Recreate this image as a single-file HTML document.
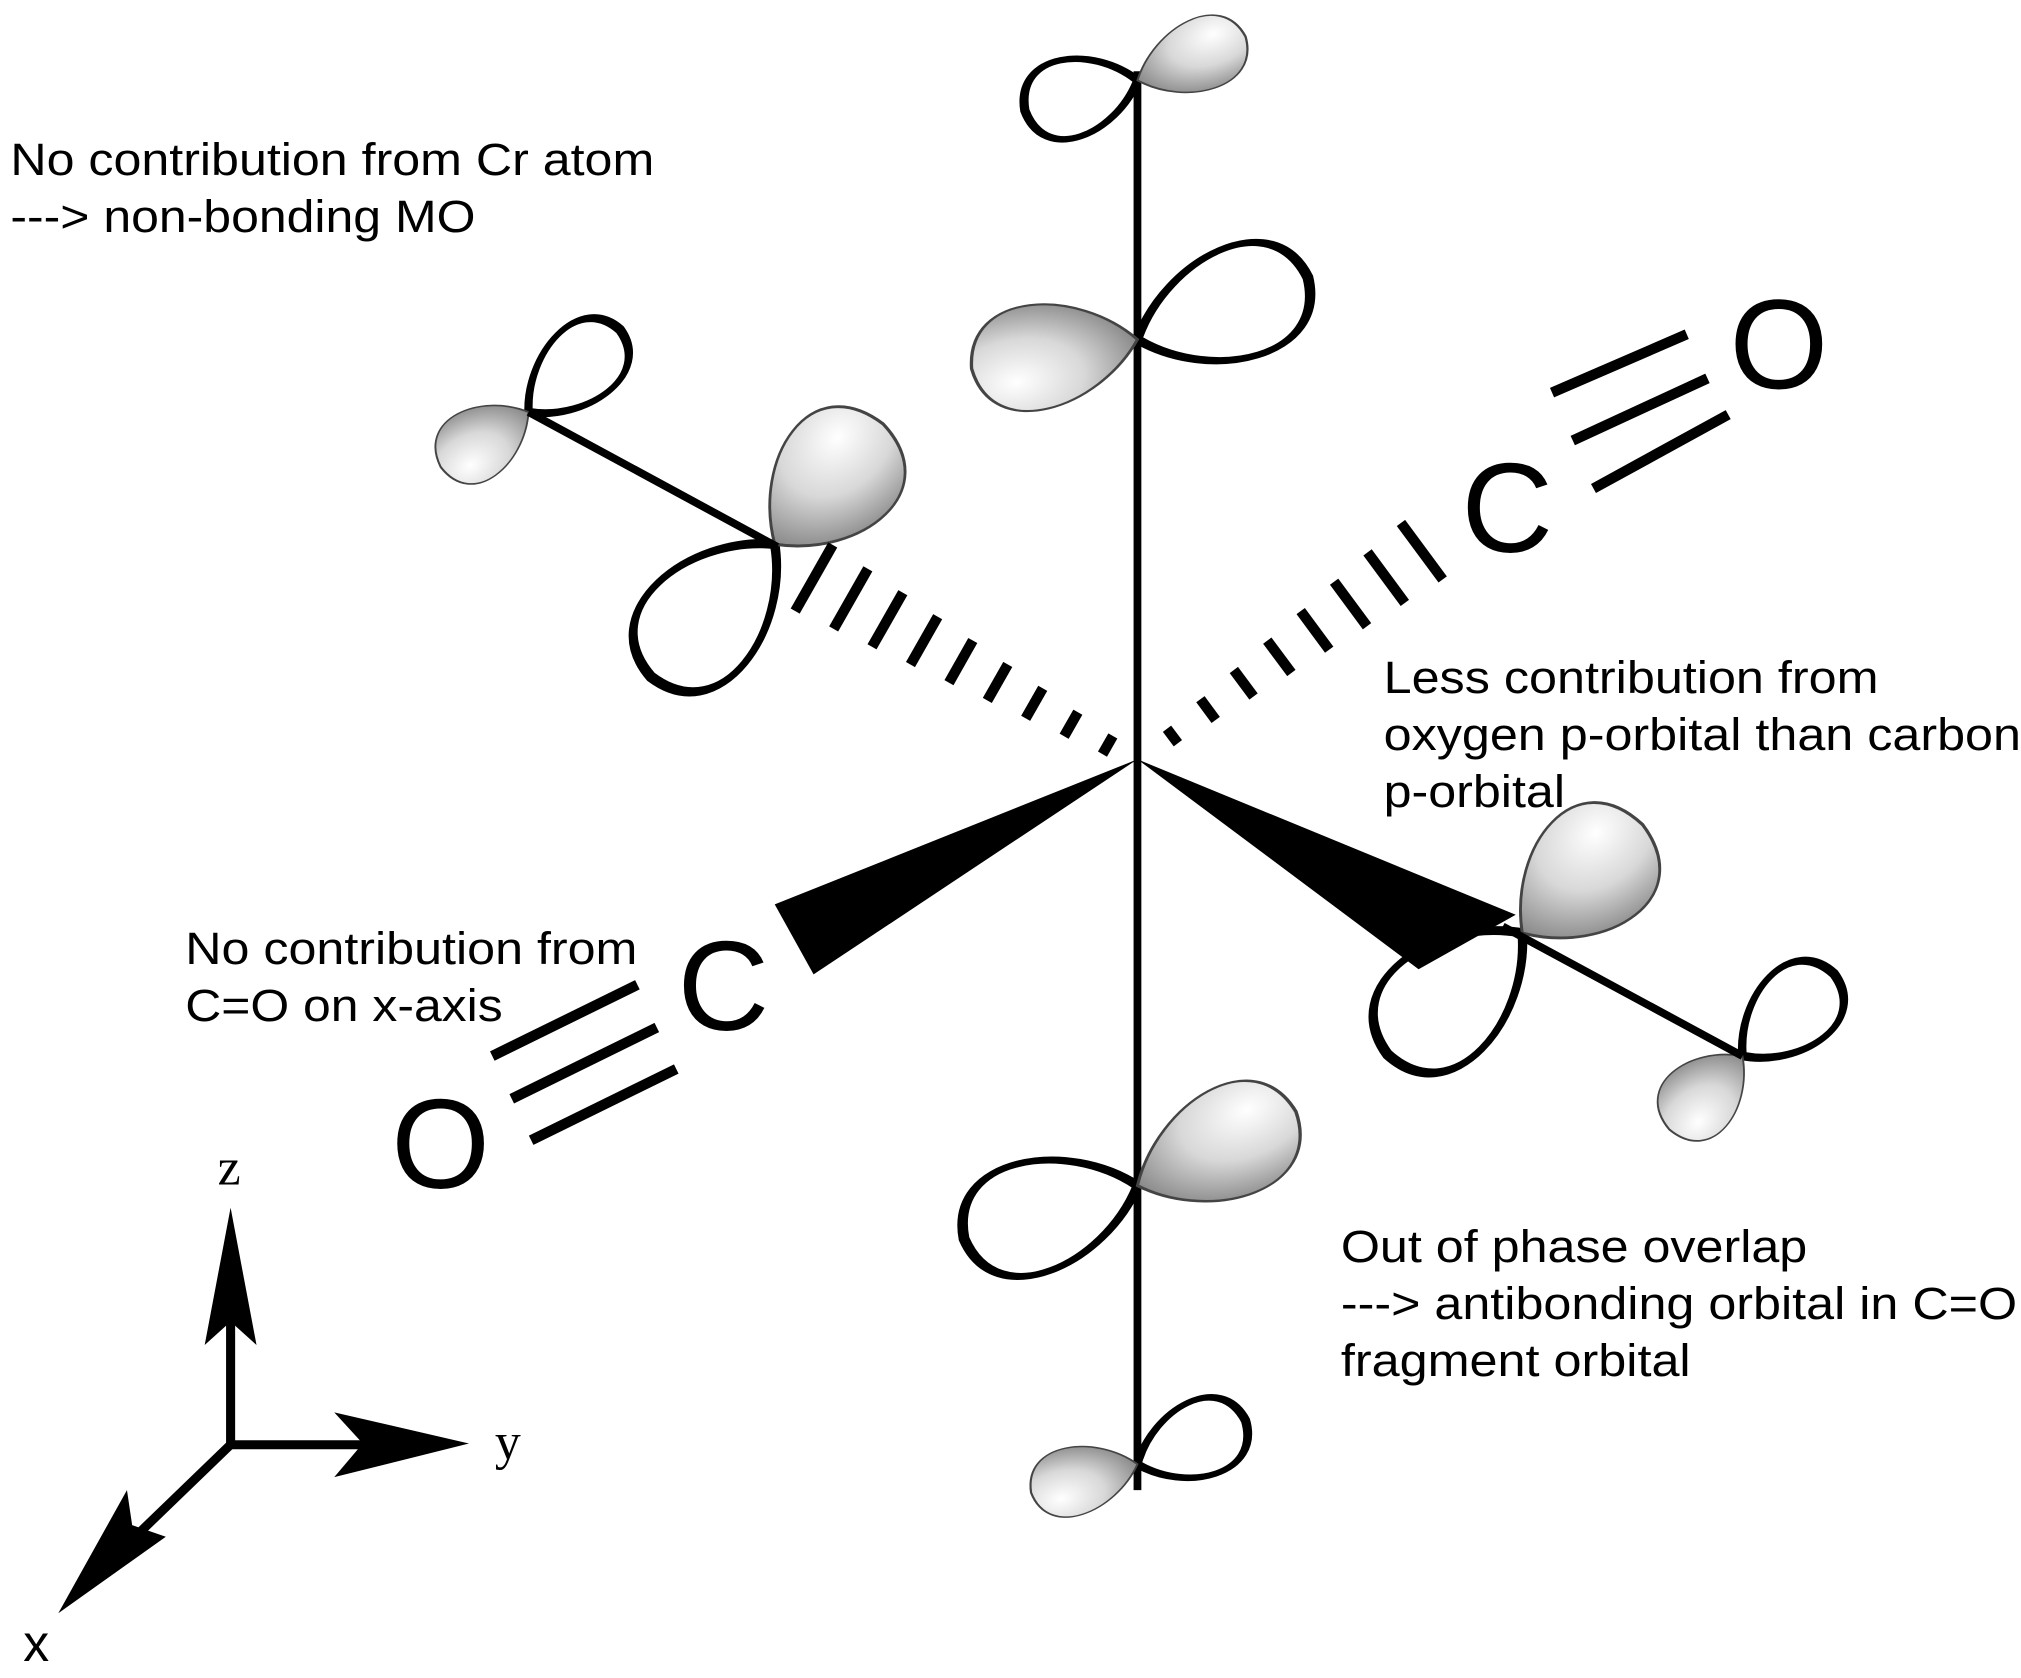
<!DOCTYPE html>
<html><head><meta charset="utf-8"><style>
html,body{margin:0;padding:0;background:#fff;}
svg{display:block}
text{font-family:"Liberation Sans",sans-serif;fill:#000}
</style></head><body>
<svg width="2021" height="1678" viewBox="0 0 1560 1295" preserveAspectRatio="none" xmlns="http://www.w3.org/2000/svg">
<defs>
<radialGradient id="g" cx="0.75" cy="0.3" r="0.9">
<stop offset="0" stop-color="#ffffff"/><stop offset="0.45" stop-color="#d8d8d8"/><stop offset="0.85" stop-color="#8a8a8a"/><stop offset="1" stop-color="#5a5a5a"/>
</radialGradient>
<path id="lobe" d="M0 0 C0.3 -0.6 0.95 -0.75 1 0 C0.95 0.75 0.3 0.6 0 0 Z"/>
</defs>
<rect width="1560" height="1295" fill="#fff"/>
<line x1="878" y1="55" x2="878" y2="1150" stroke="#000" stroke-width="6"/>
<g fill="#fff" stroke="#000">
<use href="#lobe" transform="translate(878,62) rotate(165) scale(90,60)" stroke-width="0.08"/>
<use href="#lobe" transform="translate(878,262) rotate(-20) scale(140,85)" stroke-width="0.06"/>
<use href="#lobe" transform="translate(878,915) rotate(163) scale(140,85)" stroke-width="0.06"/>
<use href="#lobe" transform="translate(878,1130) rotate(-22) scale(90,58)" stroke-width="0.08"/>
<use href="#lobe" transform="translate(408,318) rotate(-42) scale(95,58)" stroke-width="0.08"/>
<use href="#lobe" transform="translate(598,420) rotate(133) scale(140,90)" stroke-width="0.06"/>
<use href="#lobe" transform="translate(1175,720) rotate(138) scale(140,90)" stroke-width="0.06"/>
<use href="#lobe" transform="translate(1345,815) rotate(-42) scale(95,62)" stroke-width="0.08"/>
</g>
<g fill="url(#g)" stroke="#444" stroke-width="0.02">
<use href="#lobe" transform="translate(878,62) rotate(-22) scale(90,55)"/>
<use href="#lobe" transform="translate(878,262) rotate(170) scale(130,80)"/>
<use href="#lobe" transform="translate(878,915) rotate(-25) scale(135,85)"/>
<use href="#lobe" transform="translate(878,1130) rotate(165) scale(85,52)"/>
<use href="#lobe" transform="translate(408,318) rotate(148) scale(80,55)"/>
<use href="#lobe" transform="translate(598,420) rotate(-48) scale(125,95)"/>
<use href="#lobe" transform="translate(1175,720) rotate(-42) scale(125,95)"/>
<use href="#lobe" transform="translate(1345,815) rotate(135) scale(80,58)"/>
</g>
<g stroke="#000" stroke-width="6" fill="none">
<line x1="408" y1="318" x2="600" y2="422"/>
<line x1="1160" y1="715" x2="1345" y2="815"/>
</g>
<g stroke="#000" stroke-width="8">
<line x1="859" y1="568" x2="851" y2="582"/>
<line x1="832" y1="549.6" x2="821.4" y2="568.2"/>
<line x1="804.9" y1="531.2" x2="791.7" y2="554.4"/>
<line x1="777.9" y1="512.8" x2="762.1" y2="540.6"/>
<line x1="750.9" y1="494.3" x2="732.5" y2="526.9"/>
<line x1="723.8" y1="475.9" x2="702.8" y2="512.9"/>
<line x1="696.9" y1="457.4" x2="673.1" y2="499.2"/>
<line x1="669.9" y1="439" x2="643.5" y2="485.4"/>
<line x1="642.8" y1="420.6" x2="613.8" y2="471.6"/>
<line x1="909.2" y1="573.6" x2="900.8" y2="562.4"/>
<line x1="938.4" y1="555.6" x2="926.6" y2="539.6"/>
<line x1="967.6" y1="537.5" x2="952.4" y2="517.1"/>
<line x1="996.8" y1="519.4" x2="978.2" y2="494.4"/>
<line x1="1026" y1="501.4" x2="1004" y2="471.6"/>
<line x1="1055.2" y1="483.3" x2="1029.8" y2="448.9"/>
<line x1="1084.4" y1="465.3" x2="1055.6" y2="426.3"/>
<line x1="1113.6" y1="447.2" x2="1081.4" y2="403.6"/>
</g>
<polygon points="878,586 598,698 628,752" fill="#000"/>
<polygon points="878,586 1095,748 1170,706" fill="#000"/>
<g stroke="#000" stroke-width="8">
<line x1="1198" y1="303" x2="1302" y2="258"/>
<line x1="1214" y1="340" x2="1318" y2="292"/>
<line x1="1230" y1="377" x2="1334" y2="320"/>
<line x1="380" y1="815" x2="492" y2="760"/>
<line x1="395" y1="848" x2="507" y2="793"/>
<line x1="410" y1="880" x2="522" y2="825"/>
</g>
<text x="1128" y="426" font-size="98">C</text>
<text x="1335" y="300" font-size="98">O</text>
<text x="523" y="795" font-size="98">C</text>
<text x="302" y="917" font-size="98">O</text>
<g stroke="#000" stroke-width="7" fill="none">
<line x1="178" y1="1118" x2="178" y2="1010"/>
<line x1="175" y1="1115" x2="290" y2="1115"/>
<line x1="180" y1="1113" x2="95" y2="1195"/>
</g>
<polygon points="178,932 158,1038 178,1020 198,1038" fill="#000"/>
<polygon points="362,1114 258,1090 280,1114 258,1140" fill="#000"/>
<polygon points="45,1245 98,1150 102,1177 128,1186" fill="#000"/>
<text x="168" y="914" font-size="40" style="font-family:'Liberation Serif',serif">z</text>
<text x="382" y="1126" font-size="40" style="font-family:'Liberation Serif',serif">y</text>
<text x="18" y="1282" font-size="40">x</text>
<g font-size="35">
<text x="8" y="135" textLength="497" lengthAdjust="spacingAndGlyphs">No contribution from Cr atom</text>
<text x="8" y="179" textLength="359" lengthAdjust="spacingAndGlyphs">---&gt; non-bonding MO</text>
<text x="1068" y="535" textLength="382" lengthAdjust="spacingAndGlyphs">Less contribution from</text>
<text x="1068" y="579" textLength="492" lengthAdjust="spacingAndGlyphs">oxygen p-orbital than carbon</text>
<text x="1068" y="623" textLength="140" lengthAdjust="spacingAndGlyphs">p-orbital</text>
<text x="143" y="744" textLength="349" lengthAdjust="spacingAndGlyphs">No contribution from</text>
<text x="143" y="788" textLength="245" lengthAdjust="spacingAndGlyphs">C=O on x-axis</text>
<text x="1035" y="974" textLength="360" lengthAdjust="spacingAndGlyphs">Out of phase overlap</text>
<text x="1035" y="1018" textLength="522" lengthAdjust="spacingAndGlyphs">---&gt; antibonding orbital in C=O</text>
<text x="1035" y="1062" textLength="270" lengthAdjust="spacingAndGlyphs">fragment orbital</text>
</g>
</svg>
</body></html>
